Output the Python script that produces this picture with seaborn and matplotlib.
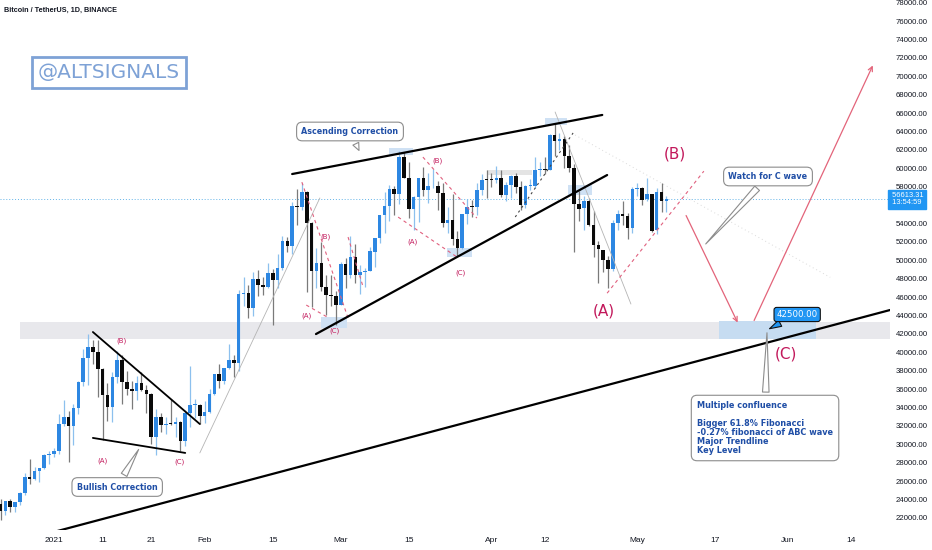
import numpy as np
import pandas as pd
import matplotlib
matplotlib.use("Agg")
import matplotlib.pyplot as plt
import matplotlib.transforms as mtransforms
from matplotlib.patches import Rectangle
import seaborn as sns

# BTC/USDT daily candles, 21 Dec 2020 -> 7 May 2021
dates = pd.date_range("2020-12-21", "2021-05-07", freq="D")

opens = [23474, 22720, 23811, 23233, 23729, 24712, 26494, 26281, 27079, 27385, 28876,
         28923, 29331, 32176, 33000, 31989, 33949, 36769, 39432, 40586, 40088, 38150, 35410, 34049, 37371, 39145, 36737,
         35994, 35824, 36622, 35901, 35468, 30851, 32950, 32078, 32259, 32251, 32465, 30362, 33369, 34252, 34262,
         33092, 33517, 35472, 37620, 36936, 38289, 39181, 38795, 46374, 46421, 44807, 47968, 47298, 47156, 48580,
         47911, 49133, 52118, 51552, 55906, 55841, 57412, 54087, 48891, 49676, 47074, 46277, 46103,
         45134, 49595, 48436, 50349, 48374, 48746, 48882, 50959, 52376, 54874, 55851, 57773, 57221, 61188, 58976,
         55605, 56900, 58912, 57641, 58030, 58100, 57351, 54083, 54342, 52303, 51293, 55026, 55817, 55778, 57635, 58746,
         58739, 58721, 58950, 57052, 58202, 59130, 57991, 56000, 58088, 58101, 59775, 59965, 59835, 63576, 62959,
         63159, 61334, 60006, 56150, 55664, 56471, 53795, 51695, 51110, 50089, 49004, 54031, 55033, 54824, 53556,
         57714, 57825, 56620, 57214, 53252, 57441, 56428]
highs = [24102, 23837, 24100, 23778, 24789, 26867, 28423, 27500, 27410, 28996, 29301,
         29600, 33300, 34778, 33600, 34360, 36939, 40365, 41950, 41380, 41350, 38264, 36628, 37850, 40100, 39747, 37950,
         36852, 37469, 37850, 36415, 35600, 33826, 33456, 32944, 34881, 32921, 32557, 33783, 38531, 34933, 34342,
         34717, 35984, 37662, 38708, 38310, 40955, 39700, 46794, 48200, 47310, 48678, 48985, 48150, 49707, 49010,
         50689, 52618, 52530, 56368, 57700, 58352, 57508, 54183, 51374, 52041, 48424, 48394, 46638,
         49790, 50200, 52640, 51773, 49448, 49200, 51450, 52402, 54895, 57387, 58150, 58081, 61844, 61724, 60633,
         56938, 58981, 60100, 59468, 59880, 58589, 58430, 55830, 57200, 53238, 55073, 56700, 56559, 58400, 59368, 59800,
         59490, 60200, 59791, 58500, 59251, 59474, 58650, 58153, 58869, 61218, 60658, 61199, 63777, 64854, 63800,
         63520, 62506, 60499, 57526, 57038, 56757, 55410, 52120, 51167, 50500, 54356, 55460, 56428, 55195, 58000,
         58449, 57925, 58973, 57214, 57911, 58363, 57000]
lows = [21815, 22353, 22600, 22703, 23433, 24500, 25700, 26101, 25880, 27320, 27850,
        28624, 28946, 31962, 28130, 29900, 33288, 36300, 36500, 38720, 35111, 30420, 32531, 32380, 36701, 34408, 35357,
        33850, 34800, 35844, 33400, 30071, 28850, 31390, 31106, 32087, 30837, 29241, 29842, 31915, 32825, 32171,
        32296, 33418, 35362, 36161, 36570, 38215, 37351, 37988, 45020, 43727, 43994, 46125, 46202, 47014, 42988,
        47003, 48947, 50901, 50710, 53863, 55478, 46579, 44892, 47003, 46674, 44106, 45000, 43000,
        45115, 47047, 48100, 47500, 46300, 47070, 48882, 49274, 51845, 53005, 54272, 54962, 56078, 58966, 54600,
        53271, 54123, 57023, 56270, 57820, 55450, 53650, 53000, 51700, 50427, 51225, 53950, 54691, 54900, 57072, 56770,
        57935, 58434, 56880, 56478, 56817, 57333, 55473, 55700, 57691, 57902, 59177, 59370, 59805, 61301, 62020,
        60000, 59580, 50931, 54221, 53329, 53695, 50400, 47500, 48750, 47000, 48800, 53325, 53814, 52330, 53000,
        57029, 56035, 56478, 53046, 52900, 55200, 55300]
closes = [22720, 23810, 23232, 23729, 24712, 26493, 26281, 27079, 27385, 28876, 28923,
          29331, 32178, 33000, 31988, 33949, 36770, 39432, 40582, 40088, 38150, 35404, 34051, 37371, 39144, 36742, 35994,
          35828, 36631, 35891, 35468, 30850, 32945, 32078, 32259, 32254, 32468, 30366, 33364, 34252, 34262, 33092,
          33526, 35466, 37618, 36936, 38290, 39186, 38795, 46374, 46420, 44807, 47969, 47287, 47153, 48577, 47911,
          49133, 52119, 51552, 55906, 55842, 57408, 54088, 48891, 49676, 47073, 46277, 46106, 45135,
          49587, 48440, 50349, 48374, 48751, 48882, 50971, 52375, 54884, 55851, 57773, 57221, 61188, 58968, 55605,
          56900, 58913, 57649, 58030, 58102, 57351, 54083, 54340, 52303, 51293, 55026, 55817, 55777, 57635, 58746, 58741,
          58720, 58950, 57051, 58202, 59130, 57991, 56000, 58088, 58102, 59774, 59965, 59835, 63576, 62959, 63159,
          61334, 60006, 56150, 55633, 56473, 53795, 51701, 51187, 50089, 49004, 54022, 55034, 54825, 53555, 57750,
          57828, 56610, 57213, 53241, 57473, 56428, 56613.31]

last_price = 56613.31
price_ticks = list(range(22000, 78001, 2000))
date_ticks = ["2021-01-01", "2021-01-11", "2021-01-21", "2021-02-01", "2021-02-15", "2021-03-01",
              "2021-03-15", "2021-04-01", "2021-04-12", "2021-05-01", "2021-05-17", "2021-06-01", "2021-06-14"]
date_labels = ["2021", "11", "21", "Feb", "15", "Mar", "15", "Apr", "12", "May", "17", "Jun", "14"]

sns.set_theme(style="white")
plt.rcParams["font.family"] = ["DejaVu Sans"]

t0 = pd.Timestamp("2021-01-01")
df = pd.DataFrame({"day": (dates - t0).days, "open": opens, "high": highs, "low": lows, "close": closes})
df["up"] = df["close"] >= df["open"]

fig = plt.figure(figsize=(9.32, 5.5), dpi=100)
ax = fig.add_axes([0, 20 / 550, 890 / 932, 530 / 550])
ax.set_facecolor("white")

# candles
body_lo = df[["open", "close"]].min(axis=1)
body_h = (df["close"] - df["open"]).abs().clip(lower=90)
ax.vlines(df["day"], df["low"], df["high"], colors=np.where(df["up"], "#8cc0ee", "#7a7a7a"), lw=0.9, zorder=3)
ax.bar(df["day"], body_h, bottom=body_lo, width=0.74,
       color=np.where(df["up"], "#2d87e2", "#0a0a0a"), linewidth=0, zorder=3.5)

# key level band + target box + small highlight boxes (day offsets from 1 Jan, prices)
ax.add_patch(Rectangle((-7, 41450), 190, 1850, color="#e8e8ec", lw=0, zorder=1))
ax.add_patch(Rectangle((136.8, 41450), 20, 1960, color="#c6dcf1", lw=0, zorder=1.2))
for d0, d1, p0, p1 in [(68.9, 73.9, 61460, 62250), (80.9, 86.0, 50360, 51350), (101.0, 105.5, 64670, 65450),
                       (105.8, 110.7, 57130, 58150), (54.9, 60.3, 42700, 43800)]:
    ax.add_patch(Rectangle((d0, p0), d1 - d0, p1 - p0, color="#cfe1f4", lw=0, zorder=1.3))
ax.add_patch(Rectangle((89.1, 59290), 9.3, 540, color="#e4e4e4", lw=0, zorder=1.3))

# current price
ax.axhline(last_price, color="#62b3e8", lw=0.7, ls=(0, (1, 2)), zorder=2)

# trend lines
solid = [((-0.6, 20400), (172.0, 44600), 1.6),
         ((8.0, 42210), (30.0, 32210), 1.3),
         ((8.0, 30700), (27.0, 29070), 1.3),
         ((49.0, 59380), (112.8, 65800), 1.6),
         ((53.9, 41990), (113.8, 59270), 1.6)]
for a, b, w in solid:
    ax.plot([a[0], b[0]], [a[1], b[1]], color="black", lw=w, zorder=5, solid_capstyle="round")
for a, b in [((30.0, 29070), (54.7, 56780)), ((103.1, 66120), (118.7, 45250))]:
    ax.plot([a[0], b[0]], [a[1], b[1]], color="#b4b4b4", lw=0.6, zorder=4)
ax.plot([94.9, 106.8], [54710, 63840], color="#444444", lw=0.8, ls=(0, (2, 3)), zorder=4)
ax.plot([107.2, 159.7], [63620, 48150], color="#dadada", lw=0.7, ls=(0, (1, 3)), zorder=2)

pink = "#e0607e"
for a, b in [((51.0, 58500), (60.5, 43720)), ((51.9, 45140), (56.2, 43840)), ((60.5, 52530), (63.6, 47100)),
             ((75.9, 61220), (87.0, 54590)), ((70.8, 54700), (82.9, 50360)), ((113.8, 46430), (133.7, 59690))]:
    ax.plot([a[0], b[0]], [a[1], b[1]], color=pink, lw=0.8, ls=(0, (3, 3)), zorder=4)

# projected path
for a, b in [((129.8, 55140), (140.9, 42970)), ((143.8, 43190), (168.7, 71450))]:
    ax.annotate("", xy=b, xytext=a,
                arrowprops=dict(arrowstyle="->", color="#e3647a", lw=0.9, mutation_scale=8), zorder=5)

# wave labels
wave = "#c2185b"
for txt, d, p in [("(B)", 127.8, 61530), ("(A)", 113.2, 44470), ("(C)", 150.6, 39800)]:
    ax.text(d, p, txt, color=wave, fontsize=11, ha="center", va="center", zorder=6)
for txt, d, p in [("(B)", 13.8, 41310), ("(A)", 9.9, 28270), ("(C)", 25.9, 28160),
                  ("(B)", 55.8, 52530), ("(A)", 51.9, 43950), ("(C)", 57.8, 42320),
                  ("(B)", 78.8, 60790), ("(A)", 73.7, 51990), ("(C)", 83.7, 48630)]:
    ax.text(d, p, txt, color=wave, fontsize=5, ha="center", va="center", zorder=6)

# callouts
note = "#1f4ea6"
box = dict(boxstyle="round,pad=0.6,rounding_size=0.7", fc="white", ec="#8c8c8c", lw=0.8)
wedge = dict(arrowstyle="wedge,tail_width=0.8", fc="white", ec="#8c8c8c", lw=0.8)
for txt, tip, pos in [("Ascending Correction", (63.0, 61666), (60.9, 64002)),
                      ("Bullish Correction", (17.7, 29713), (13.0, 25366)),
                      ("Watch for C wave", (133.7, 51558), (146.9, 59112))]:
    ax.annotate(txt, xy=tip, xytext=pos, ha="center", va="center", fontsize=5.8, fontweight="bold",
                color=note, bbox=box, arrowprops=wedge, zorder=7)
ax.annotate("Multiple confluence\n\nBigger 61.8% Fibonacci\n-0.27% fibonacci of ABC wave\nMajor Trendline\nKey Level",
            xy=(146.7, 42430), xytext=(132.3, 34712), ha="left", va="top", fontsize=5.9, fontweight="bold",
            color=note, linespacing=1.0, multialignment="left",
            bbox=dict(boxstyle="round,pad=0.7,rounding_size=0.7", fc="white", ec="#8c8c8c", lw=0.8),
            arrowprops=dict(arrowstyle="wedge,tail_width=0.8", fc="white", ec="#8c8c8c", lw=0.8), zorder=7)
ax.annotate("42500.00", xy=(146.7, 42430), xytext=(152.9, 44114), ha="center", va="center", fontsize=6.2,
            color="white", bbox=dict(boxstyle="round,pad=0.3,rounding_size=0.3", fc="#2196f3", ec="#111111", lw=0.8),
            arrowprops=dict(arrowstyle="wedge,tail_width=0.8", fc="#2196f3", ec="#111111", lw=0.8), zorder=8)

# axes
ax.set_xlim(-11.11, 172.0)
ax.set_ylim(20693, 78293)
ax.set_xticks([(pd.Timestamp(s) - t0).days for s in date_ticks])
ax.set_xticklabels(date_labels, family=["Liberation Sans", "DejaVu Sans"])
ax.yaxis.tick_right()
ax.set_yticks(price_ticks)
ax.set_yticklabels(["" if v == 56000 else f"{v:.2f}" for v in price_ticks], family=["Liberation Sans", "DejaVu Sans"])
ax.tick_params(axis="x", length=0, pad=5, labelsize=6, labelcolor="#131722")
ax.tick_params(axis="y", length=0, pad=4, labelsize=5.6, labelcolor="#131722")
ax.grid(False)
sns.despine(ax=ax, left=True, bottom=True, right=True, top=True)

tag = mtransforms.blended_transform_factory(ax.transAxes, ax.transData)
ax.text(1.0, last_price, " 56613.31\n 13:54:59", transform=tag, ha="left", va="center", fontsize=5.4,
        color="white", linespacing=1.0, family=["Liberation Sans", "DejaVu Sans"],
        bbox=dict(boxstyle="square,pad=0.3", fc="#2196f3", ec="#2196f3"), zorder=9)

fig.text(4 / 932, 1 - 10 / 550, "Bitcoin / TetherUS, 1D, BINANCE", fontsize=5.2, fontweight="bold",
         color="#131722", ha="left", va="center", family=["Liberation Sans", "DejaVu Sans"])
fig.text(109 / 932, 1 - 72.5 / 550, "@ALTSIGNALS", fontsize=14.5, color="#7ea2d6", ha="center", va="center",
         bbox=dict(boxstyle="square,pad=0.3", fc="white", ec="#7ea2d6", lw=2))

fig.savefig("out.png", dpi=100, facecolor="white")
